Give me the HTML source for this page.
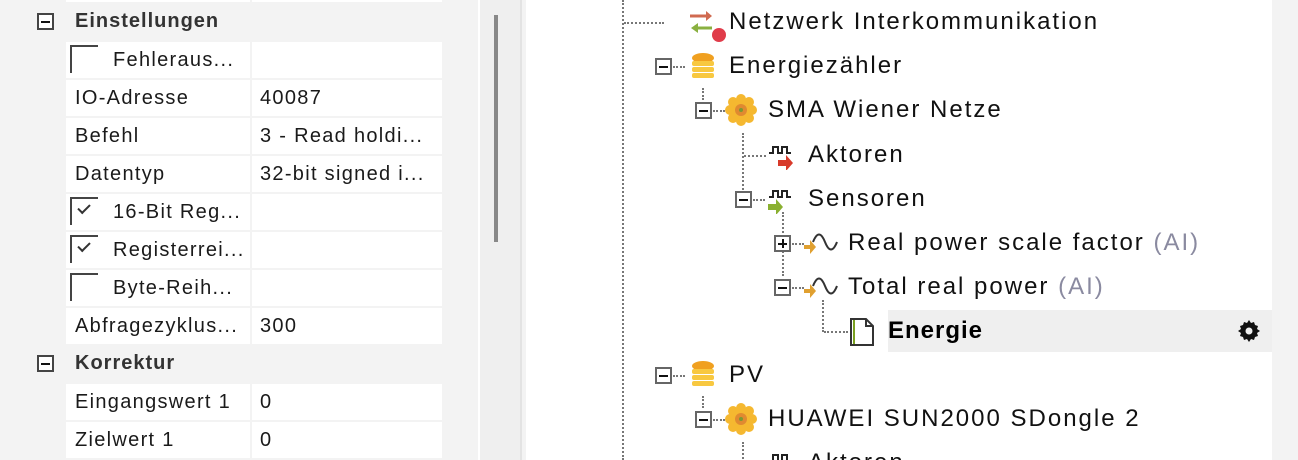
<!DOCTYPE html>
<html><head><meta charset="utf-8"><style>
*{margin:0;padding:0;box-sizing:border-box}
html{width:1298px;height:460px;overflow:hidden}
body{width:1298px;height:460px;overflow:hidden;background:#f3f3f3;position:relative;font-family:"Segoe UI","Liberation Sans",sans-serif;color:#1a1a1a}
.a{position:absolute}
.c{position:absolute;background:#fff;height:36px}
.t{position:absolute;font-size:20px;line-height:36px;white-space:nowrap;letter-spacing:1.3px}
.h{position:absolute;font-size:20px;font-weight:bold;color:#333;white-space:nowrap;letter-spacing:1px}
.cb{position:absolute;width:28px;height:28px;border-left:2px solid #444;border-top:2px solid #444}
.box{position:absolute;width:17px;height:17px;border:2px solid #666;background:#fff}
.box:after{content:"";position:absolute;left:2px;top:5.5px;width:9px;height:2px;background:#111}
.plus:before{content:"";position:absolute;left:5.5px;top:2px;width:2px;height:9px;background:#111}
.vd{position:absolute;border-left:2px dotted #777;width:0}
.hd{position:absolute;border-top:2px dotted #777;height:0}
.r{position:absolute;font-size:24px;line-height:30px;white-space:nowrap;color:#111;letter-spacing:2px}
.g{color:#8a8aa0}
</style></head><body>
<div class="c" style="left:66px;top:-34px;width:184px"></div><div class="c" style="left:252px;top:-34px;width:190px"></div>
<div class="box" style="left:37px;top:13px;border-color:#444"></div>
<div class="h" style="left:75px;top:10px">Einstellungen</div>
<div id="rows"></div>
<div class="box" style="left:37px;top:355px;border-color:#444"></div>
<div class="h" style="left:75px;top:352px">Korrektur</div>

<div class="a" style="left:478px;top:0;width:2px;height:460px;background:#fff"></div>
<div class="a" style="left:480px;top:0;width:40px;height:460px;background:#efefef"></div>
<div class="a" style="left:494px;top:15px;width:4px;height:227px;background:#888"></div>
<div class="a" style="left:520px;top:0;width:2px;height:460px;background:#e3e3e3"></div>
<div class="a" style="left:526px;top:0;width:746px;height:460px;background:#fff"></div>

<div class="vd" style="left:622px;top:0;height:460px"></div>
<div class="hd" style="left:624px;top:22px;width:40px"></div>
<svg class="a" style="left:688px;top:8px" width="40" height="36"><path d="M2 8h20" stroke="#d06a50" stroke-width="3"/><path d="M18 3l6 5-6 5z" fill="#d06a50"/><path d="M8 20h16" stroke="#8ab040" stroke-width="3"/><path d="M10 15l-7 5 7 5z" fill="#8ab040"/><circle cx="31" cy="27" r="7" fill="#e03c4a"/></svg>
<div class="r" style="left:729px;top:7px">Netzwerk Interkommunikation</div>

<div class="box" style="left:655px;top:58px"></div><div class="hd" style="left:673px;top:66px;width:12px"></div>
<svg class="a" style="left:690px;top:52px" width="26" height="28"><ellipse cx="13" cy="6" rx="11" ry="5" fill="#f0a020"/><rect x="2" y="9" width="22" height="5" rx="2" fill="#f8c840"/><rect x="2" y="15" width="22" height="5" rx="2" fill="#f8c840"/><rect x="2" y="21" width="22" height="5" rx="2" fill="#f8c840"/></svg>
<div class="r" style="left:729px;top:51px">Energiezähler</div>

<div class="vd" style="left:702px;top:88px;height:12px"></div>
<div class="box" style="left:695px;top:102px"></div><div class="hd" style="left:713px;top:110px;width:12px"></div>
<svg class="a" style="left:725px;top:94px" width="32" height="32"><g fill="#f5b830"><circle cx="16" cy="16" r="10"/><circle cx="16" cy="5" r="5"/><circle cx="16" cy="27" r="5"/><circle cx="5" cy="16" r="5"/><circle cx="27" cy="16" r="5"/><circle cx="8" cy="8" r="5"/><circle cx="24" cy="24" r="5"/><circle cx="24" cy="8" r="5"/><circle cx="8" cy="24" r="5"/></g><circle cx="16" cy="16" r="6" fill="#e08a30"/><circle cx="16" cy="16" r="2" fill="#7a9a30"/></svg>
<div class="r" style="left:768px;top:95px">SMA Wiener Netze</div>

<div class="vd" style="left:742px;top:133px;height:57px"></div>
<div class="hd" style="left:744px;top:155px;width:22px"></div>
<svg class="a" style="left:768px;top:144px" width="28" height="26"><path d="M1 9h4V3h5v6h4V3h5v6h4" fill="none" stroke="#222" stroke-width="2"/><path d="M10 16h8v-5l7 8-7 8v-5h-8z" fill="#d83a2a"/></svg>
<div class="r" style="left:808px;top:140px">Aktoren</div>

<div class="box" style="left:735px;top:191px"></div><div class="hd" style="left:753px;top:199px;width:12px"></div>
<svg class="a" style="left:768px;top:188px" width="28" height="26"><path d="M1 9h4V3h5v6h4V3h5v6h4" fill="none" stroke="#222" stroke-width="2"/><path d="M0 16h8v-5l7 8-7 8v-5h-8z" fill="#8ab030"/></svg>
<div class="r" style="left:808px;top:184px">Sensoren</div>

<div class="vd" style="left:782px;top:212px;height:64px"></div>
<div class="box plus" style="left:774px;top:235px"></div><div class="hd" style="left:792px;top:243px;width:12px"></div>
<svg class="a" style="left:803px;top:228px" width="36" height="34"><path d="M10 14c4-10 8-10 12 0s8 10 12 0" fill="none" stroke="#333" stroke-width="2"/><path d="M1 17h6v-5l6 7-6 7v-5h-6z" fill="#e0a030"/></svg>
<div class="r" style="left:848px;top:228px">Real power scale factor <span class="g">(AI)</span></div>

<div class="box" style="left:774px;top:279px"></div><div class="hd" style="left:792px;top:287px;width:12px"></div>
<svg class="a" style="left:803px;top:272px" width="36" height="34"><path d="M10 14c4-10 8-10 12 0s8 10 12 0" fill="none" stroke="#333" stroke-width="2"/><path d="M1 17h6v-5l6 7-6 7v-5h-6z" fill="#e0a030"/></svg>
<div class="r" style="left:848px;top:272px">Total real power <span class="g">(AI)</span></div>

<div class="vd" style="left:822px;top:300px;height:32px"></div>
<div class="hd" style="left:824px;top:331px;width:24px"></div>
<div class="a" style="left:888px;top:310px;width:384px;height:42px;background:#efefef"></div>
<svg class="a" style="left:850px;top:318px" width="26" height="28"><path d="M1 1h15l7 7v19H1z" fill="#fff" stroke="#333" stroke-width="2"/><path d="M4 2v24" stroke="#7aa020" stroke-width="2"/><path d="M16 1v7h7" fill="none" stroke="#333" stroke-width="2"/></svg>
<div class="r" style="left:888px;top:316px;font-weight:bold;color:#000;letter-spacing:1px">Energie</div>
<svg class="a" style="left:1237px;top:319px" width="24" height="24" viewBox="0 0 24 24"><path d="M12 1l2 3 3-1 1 3 3 1-1 3 3 2-3 2 1 3-3 1-1 3-3-1-2 3-2-3-3 1-1-3-3-1 1-3-3-2 3-2-1-3 3-1 1-3 3 1z" fill="#111"/><circle cx="12" cy="12" r="3.5" fill="#efefef"/></svg>

<div class="box" style="left:655px;top:367px"></div><div class="hd" style="left:673px;top:375px;width:12px"></div>
<svg class="a" style="left:690px;top:360px" width="26" height="28"><ellipse cx="13" cy="6" rx="11" ry="5" fill="#f0a020"/><rect x="2" y="9" width="22" height="5" rx="2" fill="#f8c840"/><rect x="2" y="15" width="22" height="5" rx="2" fill="#f8c840"/><rect x="2" y="21" width="22" height="5" rx="2" fill="#f8c840"/></svg>
<div class="r" style="left:729px;top:360px">PV</div>

<div class="vd" style="left:702px;top:396px;height:12px"></div>
<div class="box" style="left:695px;top:411px"></div><div class="hd" style="left:713px;top:419px;width:12px"></div>
<svg class="a" style="left:725px;top:403px" width="32" height="32"><g fill="#f5b830"><circle cx="16" cy="16" r="10"/><circle cx="16" cy="5" r="5"/><circle cx="16" cy="27" r="5"/><circle cx="5" cy="16" r="5"/><circle cx="27" cy="16" r="5"/><circle cx="8" cy="8" r="5"/><circle cx="24" cy="24" r="5"/><circle cx="24" cy="8" r="5"/><circle cx="8" cy="24" r="5"/></g><circle cx="16" cy="16" r="6" fill="#e08a30"/><circle cx="16" cy="16" r="2" fill="#7a9a30"/></svg>
<div class="r" style="left:768px;top:404px">HUAWEI SUN2000 SDongle 2</div>
<div class="vd" style="left:742px;top:442px;height:20px"></div>
<svg class="a" style="left:768px;top:452px" width="28" height="10"><path d="M1 9h4V3h5v6h4V3h5v6h4" fill="none" stroke="#222" stroke-width="2"/></svg>
<div class="r" style="left:808px;top:448px">Aktoren</div>

<script>
var rows=[[42,"Fehleraus...","",1,0],[80,"IO-Adresse","40087"],[118,"Befehl","3 - Read holdi..."],[156,"Datentyp","32-bit signed i..."],[194,"16-Bit Reg...","",1,1],[232,"Registerrei...","",1,1],[270,"Byte-Reih...","",1,0],[308,"Abfragezyklus...","300"],[384,"Eingangswert 1","0"],[422,"Zielwert 1","0"]];
var h="";
rows.forEach(function(r){
h+='<div class="c" style="left:66px;top:'+r[0]+'px;width:184px"></div><div class="c" style="left:252px;top:'+r[0]+'px;width:190px"></div>';
if(r[3]){h+='<div class="cb" style="left:70px;top:'+(r[0]+3)+'px"></div>';
if(r[4])h+='<div class="a" style="left:78px;top:'+(r[0]+10)+'px;width:12px;height:7px;border-left:2px solid #333;border-bottom:2px solid #333;transform:rotate(-45deg)"></div>';
h+='<div class="t" style="left:113px;top:'+r[0]+'px">'+r[1]+'</div>';}
else h+='<div class="t" style="left:75px;top:'+r[0]+'px">'+r[1]+'</div>';
h+='<div class="t" style="left:260px;top:'+r[0]+'px">'+r[2]+'</div>';});
document.getElementById("rows").innerHTML=h;
</script>
</body></html>
